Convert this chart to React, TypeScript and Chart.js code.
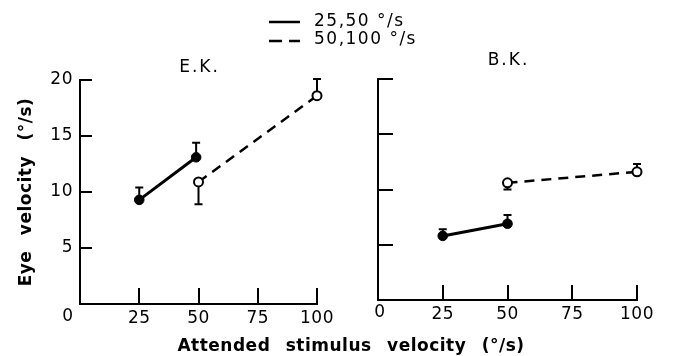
import React, { useEffect, useRef } from 'react';
import { Chart, registerables } from 'chart.js';

Chart.register(...registerables);

// ---- data ----
const xTickValues = [0, 25, 50, 75, 100];
const yTickValues = [5, 10, 15, 20];

const ekSolidX = [25, 49];
const ekSolidY = [9.3, 13.1];
const ekSolidErr = [10.4, 14.4];
const ekDashX = [50, 100];
const ekDashY = [10.9, 18.6];
const ekDashErr = [8.9, 20.1];

const bkSolidX = [25, 50];
const bkSolidY = [5.8, 6.9];
const bkSolidErr = [6.4, 7.7];
const bkDashX = [50, 100];
const bkDashY = [10.6, 11.6];
const bkDashErr = [10.0, 12.3];

const legendLabels = ['25,50 °/s', '50,100 °/s'];
const panelTitles = ['E.K.', 'B.K.'];
const xTitle = 'Attended stimulus velocity (°/s)';
const yTitle = 'Eye velocity (°/s)';

const FONT = 'DejaVu Sans';

const toPts = (xs: number[], ys: number[]) => xs.map((x, i) => ({ x, y: ys[i] }));

const decoPlugin = {
  id: 'panelDeco',
  beforeDraw(chart: any) {
    chart.ctx.letterSpacing = '0.5px';
  },
  beforeDatasetsDraw(chart: any) {
    const ctx = chart.ctx;
    const ys = chart.scales.y;
    ctx.save();
    ctx.strokeStyle = '#000';
    ctx.lineWidth = 2;
    ctx.setLineDash([]);
    chart.data.datasets.forEach((ds: any, i: number) => {
      const meta = chart.getDatasetMeta(i);
      (ds.errEnd || []).forEach((e: number, j: number) => {
        const pt = meta.data[j];
        const ey = ys.getPixelForValue(e);
        ctx.beginPath();
        ctx.moveTo(pt.x, pt.y);
        ctx.lineTo(pt.x, ey);
        ctx.moveTo(pt.x - 4, ey);
        ctx.lineTo(pt.x + 4, ey);
        ctx.stroke();
      });
    });
    ctx.restore();
  },
  afterDraw(chart: any, _args: any, opts: any) {
    const ctx = chart.ctx;
    const xs = chart.scales.x;
    const ys = chart.scales.y;
    const area = chart.chartArea;
    ctx.save();
    ctx.strokeStyle = '#000';
    ctx.fillStyle = '#000';
    ctx.lineWidth = 2;
    ctx.setLineDash([]);
    // inward tick marks
    yTickValues.forEach((v) => {
      const y = Math.round(ys.getPixelForValue(v));
      ctx.beginPath();
      ctx.moveTo(area.left, y);
      ctx.lineTo(area.left + opts.yTickLen, y);
      ctx.stroke();
    });
    xTickValues.slice(1).forEach((v) => {
      const x = Math.round(xs.getPixelForValue(v));
      ctx.beginPath();
      ctx.moveTo(x, area.bottom);
      ctx.lineTo(x, area.bottom - opts.xTickLen);
      ctx.stroke();
    });
    ctx.textBaseline = 'middle';
    ctx.textAlign = 'center';
    // origin label (set slightly left of the axis in the left panel)
    ctx.letterSpacing = '0.5px';
    ctx.font = `17px "${FONT}"`;
    ctx.fillText(String(xTickValues[0]), xs.getPixelForValue(xTickValues[0]) + opts.zeroShift, area.bottom + 13);
    // panel title
    ctx.letterSpacing = '2px';
    ctx.font = `17px "${FONT}"`;
    ctx.fillText(opts.title, xs.getPixelForValue(50) + 1, opts.titleY);

    if (opts.main) {
      // legend
      ctx.lineWidth = 2.5;
      ctx.beginPath();
      ctx.moveTo(269, 22);
      ctx.lineTo(300, 22);
      ctx.stroke();
      ctx.setLineDash([13, 7]);
      ctx.beginPath();
      ctx.moveTo(269, 41);
      ctx.lineTo(300, 41);
      ctx.stroke();
      ctx.setLineDash([]);
      ctx.letterSpacing = '1.5px';
      ctx.wordSpacing = '0px';
      ctx.textAlign = 'left';
      ctx.font = `17px "${FONT}"`;
      ctx.fillText(legendLabels[0], 314, 22);
      ctx.fillText(legendLabels[1], 314, 40);
      // axis titles
      ctx.font = `bold 17px "${FONT}"`;
      ctx.letterSpacing = '0.5px';
      ctx.wordSpacing = '9px';
      ctx.textAlign = 'center';
      ctx.fillText(xTitle, 351, 347);
      ctx.save();
      ctx.translate(27, 192);
      ctx.rotate(-Math.PI / 2);
      ctx.fillText(yTitle, 0, 0);
      ctx.restore();
    }
    ctx.restore();
  },
};

function makeConfig(
  solid: { x: number[]; y: number[]; err: number[] },
  dashed: { x: number[]; y: number[]; err: number[] },
  pad: { left: number; right: number; top: number; bottom: number },
  showYLabels: boolean,
  deco: any
) {
  return {
    type: 'scatter',
    data: {
      datasets: [
        {
          data: toPts(solid.x, solid.y),
          errEnd: solid.err,
          showLine: true,
          borderColor: '#000',
          borderWidth: 3,
          pointRadius: 4.8,
          pointBackgroundColor: '#000',
          pointBorderColor: '#000',
          pointBorderWidth: 1,
          clip: false,
        },
        {
          data: toPts(dashed.x, dashed.y),
          errEnd: dashed.err,
          showLine: true,
          borderColor: '#000',
          borderWidth: 2.5,
          borderDash: [10, 7],
          pointRadius: 4.5,
          pointBackgroundColor: '#fff',
          pointBorderColor: '#000',
          pointBorderWidth: 2,
          clip: false,
        },
      ],
    },
    options: {
      responsive: false,
      animation: false,
      layout: { padding: pad },
      plugins: {
        legend: { display: false },
        tooltip: { enabled: false },
        title: { display: false },
        panelDeco: deco,
      },
      scales: {
        x: {
          type: 'linear',
          min: 0,
          max: 100,
          afterFit: (s: any) => {
            s.height = 30;
          },
          afterBuildTicks: (s: any) => {
            s.ticks = xTickValues.map((v) => ({ value: v }));
          },
          grid: { display: false, drawTicks: false },
          border: { display: true, color: '#000', width: 2 },
          ticks: {
            font: { family: FONT, size: 17 },
            color: '#000',
            padding: 4,
            maxRotation: 0,
            autoSkip: false,
            callback: (v: number) => (v === 0 ? '' : String(v)),
          },
        },
        y: {
          type: 'linear',
          min: 0,
          max: 20,
          afterFit: (s: any) => {
            s.width = 40;
          },
          afterBuildTicks: (s: any) => {
            s.ticks = yTickValues.map((v) => ({ value: v }));
          },
          grid: { display: false, drawTicks: false },
          border: { display: true, color: '#000', width: 2 },
          ticks: {
            display: showYLabels,
            font: { family: FONT, size: 17 },
            color: '#000',
            padding: 7,
            autoSkip: false,
          },
        },
      },
    },
    plugins: [decoPlugin],
  } as any;
}

export default function App() {
  const leftRef = useRef<HTMLCanvasElement>(null);
  const rightRef = useRef<HTMLCanvasElement>(null);

  useEffect(() => {
    const left = new Chart(
      leftRef.current as HTMLCanvasElement,
      makeConfig(
        { x: ekSolidX, y: ekSolidY, err: ekSolidErr },
        { x: ekDashX, y: ekDashY, err: ekDashErr },
        { left: 40, right: 356, top: 80, bottom: 22 },
        true,
        { title: panelTitles[0], titleY: 68, yTickLen: 12, xTickLen: 16, main: true, zeroShift: -12 }
      )
    );
    const right = new Chart(
      rightRef.current as HTMLCanvasElement,
      makeConfig(
        { x: bkSolidX, y: bkSolidY, err: bkSolidErr },
        { x: bkDashX, y: bkDashY, err: bkDashErr },
        { left: 338, right: 36, top: 79, bottom: 26 },
        false,
        { title: panelTitles[1], titleY: 61, yTickLen: 15, xTickLen: 15, main: false, zeroShift: 2 }
      )
    );
    return () => {
      left.destroy();
      right.destroy();
    };
  }, []);

  return (
    <div style={{ position: 'fixed', left: 0, top: 0, width: 673, height: 356, background: '#fff' }}>
      <canvas ref={leftRef} width={673} height={356} style={{ position: 'absolute', left: 0, top: 0 }} />
      <canvas ref={rightRef} width={673} height={356} style={{ position: 'absolute', left: 0, top: 0 }} />
    </div>
  );
}
